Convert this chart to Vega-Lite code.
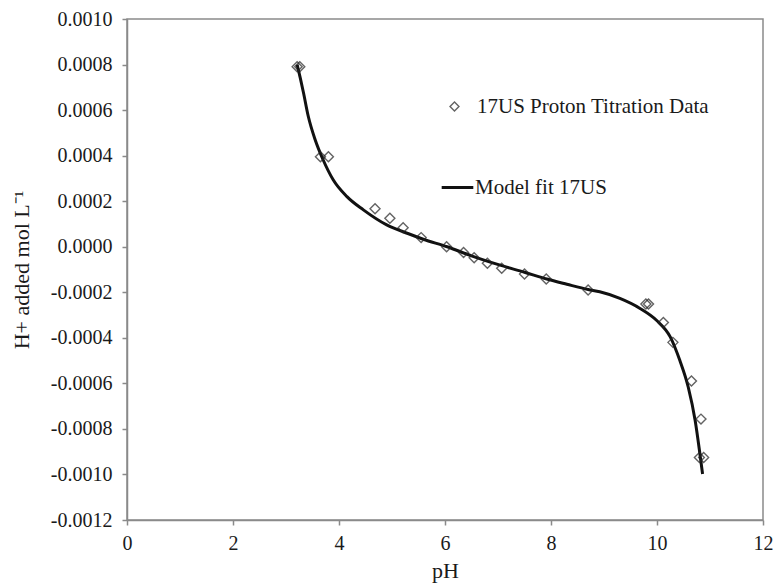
{
  "$schema": "https://vega.github.io/schema/vega-lite/v6.json",
  "width": 636,
  "height": 501,
  "autosize": {"type": "none"},
  "padding": {"left": 127, "top": 19, "right": 11, "bottom": 63},
  "background": "white",
  "config": {
    "view": {"stroke": "#8a8a8a", "strokeWidth": 1.5},
    "font": "Liberation Serif, Times New Roman, serif",
    "axis": {
      "grid": false,
      "domainColor": "#8a8a8a",
      "domainWidth": 1.5,
      "tickColor": "#8a8a8a",
      "tickWidth": 1.5,
      "tickSize": 5,
      "labelFont": "Liberation Serif, Times New Roman, serif",
      "labelFontSize": 20,
      "labelColor": "#1a1a1a",
      "titleFont": "Liberation Serif, Times New Roman, serif",
      "titleFontSize": 22,
      "titleFontWeight": "normal",
      "titleColor": "#1a1a1a"
    },
    "legend": {
      "labelFont": "Liberation Serif, Times New Roman, serif",
      "labelFontSize": 21,
      "labelColor": "#1a1a1a",
      "labelLimit": 500
    }
  },
  "datasets": {
    "obs": [
      {"pH": 3.21, "H": 0.00079},
      {"pH": 3.26, "H": 0.00079},
      {"pH": 3.65, "H": 0.000395},
      {"pH": 3.80, "H": 0.000395},
      {"pH": 4.68, "H": 0.000167},
      {"pH": 4.96, "H": 0.000125},
      {"pH": 5.21, "H": 0.000083},
      {"pH": 5.55, "H": 0.00004},
      {"pH": 6.03, "H": 0.0},
      {"pH": 6.35, "H": -0.000025},
      {"pH": 6.55, "H": -0.000048},
      {"pH": 6.80, "H": -0.000073},
      {"pH": 7.07, "H": -0.000095},
      {"pH": 7.50, "H": -0.00012},
      {"pH": 7.91, "H": -0.000142},
      {"pH": 8.70, "H": -0.00019},
      {"pH": 9.79, "H": -0.000252},
      {"pH": 9.84, "H": -0.000252},
      {"pH": 10.12, "H": -0.000333},
      {"pH": 10.30, "H": -0.00042},
      {"pH": 10.65, "H": -0.00059},
      {"pH": 10.83, "H": -0.000757},
      {"pH": 10.80, "H": -0.000926},
      {"pH": 10.88, "H": -0.000926}
    ],
    "fit": [
      {"pH": 3.21, "H": 0.0008},
      {"pH": 3.27, "H": 0.00074},
      {"pH": 3.33, "H": 0.000676},
      {"pH": 3.42, "H": 0.000573},
      {"pH": 3.55, "H": 0.00047},
      {"pH": 3.70, "H": 0.000382},
      {"pH": 3.89, "H": 0.000294},
      {"pH": 4.15, "H": 0.00022},
      {"pH": 4.46, "H": 0.000162},
      {"pH": 4.90, "H": 0.000096},
      {"pH": 5.30, "H": 0.000058},
      {"pH": 5.59, "H": 0.000033},
      {"pH": 6.04, "H": 0.0},
      {"pH": 6.50, "H": -0.00004},
      {"pH": 7.04, "H": -0.000081},
      {"pH": 7.50, "H": -0.000112},
      {"pH": 7.92, "H": -0.000142},
      {"pH": 8.30, "H": -0.000165},
      {"pH": 8.70, "H": -0.000188},
      {"pH": 8.92, "H": -0.000198},
      {"pH": 9.30, "H": -0.000227},
      {"pH": 9.68, "H": -0.000271},
      {"pH": 9.99, "H": -0.000323},
      {"pH": 10.25, "H": -0.000396},
      {"pH": 10.43, "H": -0.000499},
      {"pH": 10.59, "H": -0.000617},
      {"pH": 10.72, "H": -0.000763},
      {"pH": 10.81, "H": -0.00091},
      {"pH": 10.86, "H": -0.000998}
    ]
  },
  "encoding": {
    "x": {
      "field": "pH",
      "type": "quantitative",
      "scale": {"domain": [0, 12], "nice": false, "zero": false},
      "axis": {"values": [0, 2, 4, 6, 8, 10, 12], "title": "pH", "labelPadding": 8, "titlePadding": 7, "labelFlush": false}
    },
    "y": {
      "field": "H",
      "type": "quantitative",
      "scale": {"domain": [-0.0012, 0.001], "nice": false, "zero": false},
      "axis": {
        "values": [-0.0012, -0.001, -0.0008, -0.0006, -0.0004, -0.0002, 0, 0.0002, 0.0004, 0.0006, 0.0008, 0.001],
        "labelExpr": "replace(format(datum.value, '.4f'), '\u2212', '-')",
        "labelPadding": 10,
        "labelFlush": false,
        "title": "H+ added mol L\u207b\u00b9",
        "titlePadding": 17
      }
    }
  },
  "layer": [
    {
      "data": {"name": "fit"},
      "transform": [{"calculate": "'Model fit 17US'", "as": "series"}],
      "mark": {"type": "line", "interpolate": "monotone", "strokeWidth": 3},
      "encoding": {
        "color": {
          "field": "series",
          "type": "nominal",
          "scale": {"range": ["#111111"]},
          "legend": {
            "title": null,
            "orient": "none",
            "legendX": 313,
            "legendY": 151,
            "symbolType": "stroke",
            "symbolSize": 1000,
            "symbolStrokeWidth": 3,
            "labelOffset": 0,
            "padding": 0
          }
        }
      }
    },
    {
      "data": {"name": "obs"},
      "transform": [{"calculate": "'17US Proton Titration Data'", "as": "series"}],
      "mark": {"type": "point", "filled": false, "stroke": "#222222", "strokeWidth": 1.4, "size": 100},
      "encoding": {
        "shape": {
          "field": "series",
          "type": "nominal",
          "scale": {"range": ["diamond"]},
          "legend": {
            "title": null,
            "orient": "none",
            "legendX": 317,
            "legendY": 77,
            "symbolSize": 80,
            "symbolStrokeColor": "#222222",
            "symbolStrokeWidth": 1.4,
            "symbolFillColor": "transparent",
            "labelOffset": 12,
            "padding": 0
          }
        }
      }
    }
  ]
}
